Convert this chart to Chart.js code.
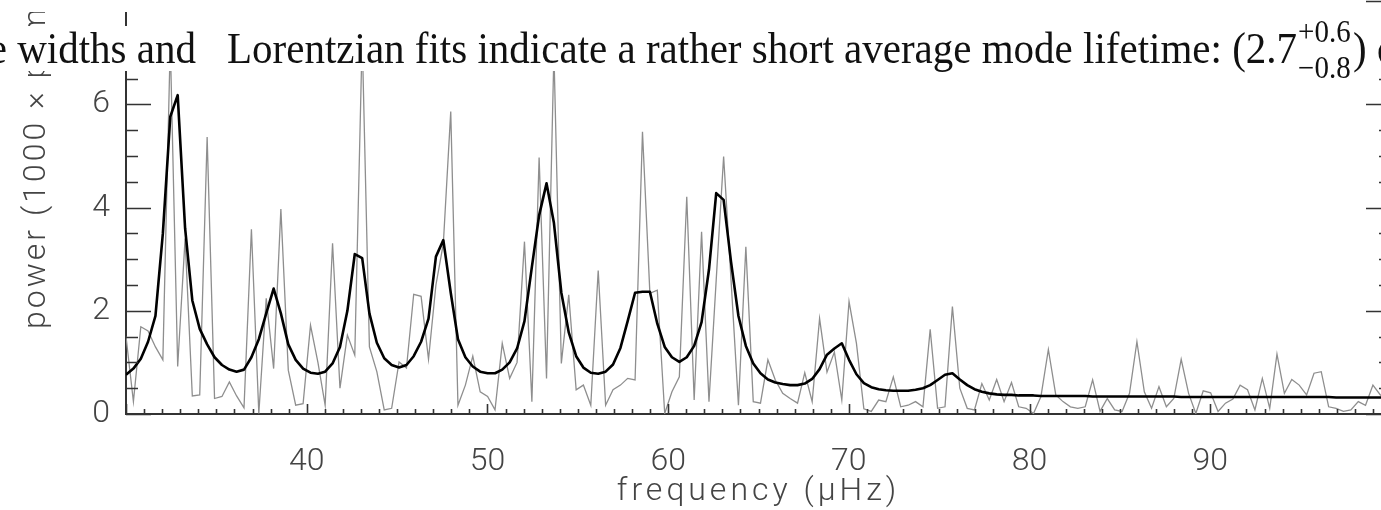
<!DOCTYPE html>
<html>
<head>
<meta charset="utf-8">
<script src="https://cdn.jsdelivr.net/npm/chart.js@4.4.1/dist/chart.umd.min.js"></script>
<style>
  html, body { margin: 0; padding: 0; background: #fff; }
  body { width: 1381px; height: 510px; overflow: hidden; position: relative; }
  #plot { position: absolute; left: 0; top: -110px; }
  .mask { position: absolute; background: #fff; z-index: 2; }
  #topMask { left: 0; top: 0; width: 1355px; height: 12px; }
  #band { left: 0; top: 26px; width: 1381px; height: 45px; }
  #line {
    position: absolute; left: 0; top: 0; width: 1381px; height: 41px;
    transform: scaleY(1.09); transform-origin: 0 0;
    font-family: 'Liberation Serif', serif; font-size: 41px; line-height: 41px;
    color: #111; white-space: nowrap;
  }
  #line span.part { position: absolute; top: 0; }
  #lead { right: 1185px; }
  #main { left: 227px; }
  .pm { position: relative; display: inline-block; width: 56px; height: 1px; }
  .pm span { position: absolute; left: 1px; font-size: 29px; line-height: 29px; }
  .pm .up { bottom: 14px; }
  .pm .dn { bottom: -19px; }
</style>
</head>
<body>
<div id="plot"><canvas id="spec" width="1400" height="630"></canvas></div>
<div id="topMask" class="mask"></div>
<div id="band" class="mask">
  <div id="line">
    <span id="lead" class="part">e widths and</span>
    <span id="main" class="part">Lorentzian fits indicate a rather short average mode lifetime: (2.7<span class="pm"><span class="up">+0.6</span><span class="dn">&#8722;0.8</span></span>) d</span>
  </div>
</div>
<script>
// frequency bins (µHz)
const freq = [
  30.00, 30.41, 30.82, 31.22, 31.63, 32.04, 32.45, 32.86, 33.27, 33.67,
  34.08, 34.49, 34.90, 35.31, 35.72, 36.12, 36.53, 36.94, 37.35, 37.76,
  38.17, 38.57, 38.98, 39.39, 39.80, 40.21, 40.62, 41.02, 41.43, 41.84,
  42.25, 42.66, 43.07, 43.47, 43.88, 44.29, 44.70, 45.11, 45.52, 45.92,
  46.33, 46.74, 47.15, 47.56, 47.97, 48.37, 48.78, 49.19, 49.60, 50.01,
  50.42, 50.82, 51.23, 51.64, 52.05, 52.46, 52.86, 53.27, 53.68, 54.09,
  54.50, 54.91, 55.31, 55.72, 56.13, 56.54, 56.95, 57.36, 57.76, 58.17,
  58.58, 58.99, 59.40, 59.81, 60.21, 60.62, 61.03, 61.44, 61.85, 62.26,
  62.66, 63.07, 63.48, 63.89, 64.30, 64.71, 65.11, 65.52, 65.93, 66.34,
  66.75, 67.16, 67.56, 67.97, 68.38, 68.79, 69.20, 69.61, 70.01, 70.42,
  70.83, 71.24, 71.65, 72.05, 72.46, 72.87, 73.28, 73.69, 74.10, 74.50,
  74.91, 75.32, 75.73, 76.14, 76.55, 76.95, 77.36, 77.77, 78.18, 78.59,
  79.00, 79.40, 79.81, 80.22, 80.63, 81.04, 81.45, 81.85, 82.26, 82.67,
  83.08, 83.49, 83.90, 84.30, 84.71, 85.12, 85.53, 85.94, 86.35, 86.75,
  87.16, 87.57, 87.98, 88.39, 88.80, 89.20, 89.61, 90.02, 90.43, 90.84,
  91.25, 91.65, 92.06, 92.47, 92.88, 93.29, 93.69, 94.10, 94.51, 94.92,
  95.33, 95.74, 96.14, 96.55, 96.96, 97.37, 97.78, 98.19, 98.59, 99.00,
  99.41, 99.82
];

// observed power spectrum (1000 x ppm^2/µHz)
const power = [
  1.50, 0.24, 1.69, 1.61, 1.30, 1.05, 7.20, 0.92, 3.40, 0.35,
  0.37, 5.37, 0.30, 0.34, 0.62, 0.35, 0.12, 3.58, 0.01, 2.24,
  0.88, 3.97, 0.85, 0.17, 0.20, 1.72, 1.00, 0.17, 3.31, 0.50,
  1.53, 1.14, 7.30, 1.30, 0.82, 0.08, 0.11, 1.01, 0.89, 2.32,
  2.28, 1.06, 2.50, 3.30, 5.86, 0.17, 0.56, 1.12, 0.43, 0.34,
  0.08, 1.37, 0.69, 1.00, 3.34, 0.24, 4.97, 0.69, 7.00, 0.98,
  2.31, 0.47, 0.56, 0.17, 2.78, 0.17, 0.47, 0.56, 0.69, 0.66,
  5.47, 2.34, 2.40, 0.01, 0.43, 0.72, 4.21, 0.27, 3.53, 0.24,
  2.60, 4.99, 2.60, 0.17, 3.24, 0.24, 0.21, 1.05, 0.66, 0.40,
  0.30, 0.21, 0.80, 0.24, 1.85, 0.81, 1.20, 0.27, 2.18, 1.37,
  0.10, 0.05, 0.27, 0.24, 0.72, 0.14, 0.17, 0.24, 0.14, 1.64,
  0.11, 0.14, 2.08, 0.50, 0.11, 0.08, 0.59, 0.27, 0.67, 0.24,
  0.61, 0.14, 0.11, 0.01, 0.34, 1.25, 0.37, 0.24, 0.14, 0.11,
  0.14, 0.66, 0.05, 0.30, 0.08, 0.05, 0.40, 1.40, 0.43, 0.11,
  0.53, 0.14, 0.30, 1.06, 0.40, 0.01, 0.45, 0.41, 0.05, 0.21,
  0.29, 0.56, 0.47, 0.08, 0.69, 0.11, 1.16, 0.40, 0.67, 0.56,
  0.37, 0.79, 0.82, 0.14, 0.11, 0.05, 0.08, 0.24, 0.17, 0.56,
  0.37, 0.30
];

// Lorentzian profile fit, same bins
const fit = [
  0.76, 0.88, 1.07, 1.40, 1.90, 3.50, 5.76, 6.18, 3.60, 2.20,
  1.65, 1.35, 1.10, 0.95, 0.86, 0.82, 0.86, 1.10, 1.45, 1.95,
  2.43, 1.95, 1.35, 1.05, 0.88, 0.80, 0.78, 0.82, 0.98, 1.30,
  2.00, 3.10, 3.02, 1.95, 1.38, 1.08, 0.95, 0.90, 0.95, 1.12,
  1.40, 1.85, 3.05, 3.37, 2.35, 1.45, 1.10, 0.92, 0.82, 0.79,
  0.79, 0.86, 1.00, 1.27, 1.80, 2.85, 3.85, 4.47, 3.70, 2.35,
  1.58, 1.12, 0.90, 0.80, 0.78, 0.82, 0.96, 1.28, 1.80, 2.35,
  2.37, 2.37, 1.75, 1.30, 1.10, 1.01, 1.10, 1.32, 1.78, 2.80,
  4.28, 4.15, 2.95, 1.90, 1.32, 0.98, 0.79, 0.67, 0.61, 0.58,
  0.56, 0.56, 0.59, 0.68, 0.87, 1.15, 1.27, 1.37, 1.05, 0.77,
  0.60, 0.52, 0.48, 0.46, 0.45, 0.45, 0.45, 0.47, 0.50, 0.56,
  0.66, 0.76, 0.79, 0.67, 0.56, 0.48, 0.43, 0.40, 0.38, 0.37,
  0.37, 0.36, 0.36, 0.36, 0.35, 0.35, 0.35, 0.35, 0.35, 0.35,
  0.35, 0.34, 0.34, 0.34, 0.34, 0.34, 0.34, 0.34, 0.34, 0.34,
  0.34, 0.34, 0.34, 0.33, 0.33, 0.33, 0.33, 0.33, 0.33, 0.33,
  0.33, 0.33, 0.33, 0.33, 0.33, 0.33, 0.33, 0.33, 0.33, 0.33,
  0.33, 0.33, 0.33, 0.33, 0.32, 0.32, 0.32, 0.32, 0.32, 0.32,
  0.32, 0.32
];

const xTicks = [40, 50, 60, 70, 80, 90];
const yTicks = [0, 2, 4, 6, 8];
const xTitle = 'frequency (μHz)';
const yTitle = 'power (1000 × ppm²/μHz)';

const axisColor = '#333';
const labelColor = '#444';
const labelFont = { family: 'Roboto', weight: 300, size: 32 };

// inward tick marks on left, right and bottom axes
const tickMarks = {
  id: 'tickMarks',
  afterDraw(chart) {
    const { ctx, chartArea: a, scales } = chart;
    ctx.save();
    ctx.strokeStyle = axisColor;
    ctx.lineWidth = 1.6;
    ctx.beginPath();
    for (let v = 0; v <= 10; v += 0.5) {
      const y = Math.round(scales.y.getPixelForValue(v)) + 0.5;
      const len = v % 2 === 0 ? 25 : 12;
      ctx.moveTo(a.left, y); ctx.lineTo(a.left + len, y);
      ctx.moveTo(a.right, y); ctx.lineTo(a.right - len, y);
    }
    for (let f = 30; f <= 100; f += 1) {
      const x = Math.round(scales.x.getPixelForValue(f)) + 0.5;
      const len = f % 10 === 0 ? 10 : 5;
      ctx.moveTo(x, a.bottom); ctx.lineTo(x, a.bottom - len);
    }
    ctx.stroke();
    ctx.restore();
  }
};

// axis titles, drawn with a little letter spacing
const axisTitles = {
  id: 'axisTitles',
  afterDraw(chart) {
    const { ctx, chartArea: a } = chart;
    ctx.save();
    ctx.fillStyle = labelColor;
    ctx.font = '300 32px Roboto';
    if ('letterSpacing' in ctx) ctx.letterSpacing = '4px';
    ctx.textAlign = 'center';
    ctx.textBaseline = 'alphabetic';
    ctx.fillText(xTitle, (a.left + a.right) / 2, a.bottom + 86);
    if ('letterSpacing' in ctx) ctx.letterSpacing = '3px';
    ctx.translate(45, a.bottom - 85);
    ctx.rotate(-Math.PI / 2);
    ctx.textAlign = 'left';
    ctx.fillText(yTitle, 0, 0);
    ctx.restore();
  }
};

// keep the plot box fixed: no extra room for edge labels
const noEdgePadding = s => {
  s.paddingTop = 0; s.paddingBottom = 0;
  s.paddingLeft = 0; s.paddingRight = 0;
};

const canvas = document.getElementById('spec');
new Chart(canvas.getContext('2d'), {
  type: 'line',
  data: {
    datasets: [{
      label: 'fit',
      data: freq.map((f, i) => ({ x: f, y: fit[i] })),
      borderColor: '#000',
      borderWidth: 2.6,
      borderJoinStyle: 'round',
      pointRadius: 0,
      tension: 0
    }, {
      label: 'spectrum',
      data: freq.map((f, i) => ({ x: f, y: power[i] })),
      borderColor: '#8e8e8e',
      borderWidth: 1.3,
      pointRadius: 0,
      tension: 0
    }]
  },
  options: {
    responsive: false,
    animation: false,
    devicePixelRatio: 1,
    layout: { padding: { top: 8, right: 9, left: 0, bottom: 0 } },
    plugins: {
      legend: { display: false },
      tooltip: { enabled: false }
    },
    scales: {
      x: {
        type: 'linear',
        min: 30,
        max: 100,
        grid: { display: false, drawTicks: false },
        border: { display: true, color: axisColor, width: 2 },
        ticks: {
          stepSize: 10,
          padding: 29,
          maxRotation: 0,
          autoSkip: false,
          color: labelColor,
          font: labelFont,
          callback: v => xTicks.includes(v) ? String(v) : ''
        },
        afterFit: s => { s.height = 106; noEdgePadding(s); }
      },
      y: {
        min: 0,
        max: 10,
        grid: { display: false, drawTicks: false },
        border: { display: true, color: axisColor, width: 2 },
        ticks: {
          stepSize: 2,
          padding: 16,
          color: labelColor,
          font: labelFont,
          callback: v => yTicks.includes(v) ? String(v) : ''
        },
        afterFit: s => { s.width = 126; noEdgePadding(s); }
      }
    }
  },
  plugins: [tickMarks, axisTitles]
});
</script>
</body>
</html>
